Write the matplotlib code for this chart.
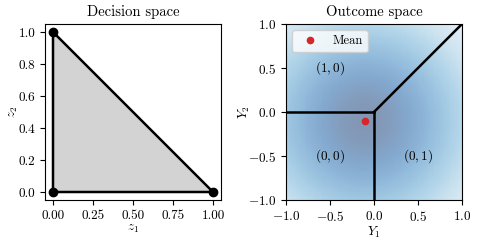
import numpy as np
import matplotlib
matplotlib.use('Agg')
import matplotlib.pyplot as plt
from matplotlib.patches import Polygon

plt.rcParams['font.family'] = 'serif'
plt.rcParams['font.serif'] = ['cmr10']
plt.rcParams['mathtext.fontset'] = 'cm'
plt.rcParams['axes.formatter.use_mathtext'] = True
plt.rcParams['font.size'] = 9.5

# Decision space: simplex vertices
vert_z1 = [0.0, 1.0, 0.0]
vert_z2 = [0.0, 0.0, 1.0]

# Outcome space: gaussian over (Y1, Y2)
mean = [-0.1, -0.1]
cov = [[0.85, 0.0], [0.0, 0.85]]

# region boundaries in outcome space
boundaries = [
    ([-1.0, 0.0], [0.0, 0.0]),
    ([0.0, 0.0], [0.0, -1.0]),
    ([0.0, 1.0], [0.0, 1.0]),
]
region_labels = ['$(1,0)$', '$(0,0)$', '$(0,1)$']
label_x = [-0.5, -0.5, 0.5]
label_y = [0.5, -0.5, -0.5]

fig = plt.figure(figsize=(4.78, 2.41), dpi=100)
ax1 = fig.add_axes([45 / 478, 41 / 241, 176 / 478, 176 / 241])
ax2 = fig.add_axes([286 / 478, 41 / 241, 176 / 478, 176 / 241])

# left panel
poly = Polygon(np.column_stack([vert_z1, vert_z2]), closed=True,
               facecolor='lightgray', edgecolor='black', lw=1.8)
ax1.add_patch(poly)
ax1.plot(vert_z1, vert_z2, 'o', color='black', ms=6)
ax1.set_xlim(-0.05, 1.05)
ax1.set_ylim(-0.05, 1.05)
ax1.set_xticks([0, 0.25, 0.5, 0.75, 1.0])
ax1.set_xticklabels(['0.00', '0.25', '0.50', '0.75', '1.00'])
ax1.set_yticks([0, 0.2, 0.4, 0.6, 0.8, 1.0])
ax1.set_yticklabels(['0.0', '0.2', '0.4', '0.6', '0.8', '1.0'])
ax1.set_xlabel('$z_1$', labelpad=1)
ax1.set_ylabel('$z_2$', labelpad=-1)
ax1.set_title('Decision space', fontsize=10.5)

# right panel
g = np.linspace(-1, 1, 100)
X, Y = np.meshgrid(g, g)
icov = np.linalg.inv(np.array(cov))
dx = X - mean[0]
dy = Y - mean[1]
Z = np.exp(-0.5 * (icov[0, 0] * dx**2 + 2 * icov[0, 1] * dx * dy + icov[1, 1] * dy**2))
ax2.pcolormesh(X, Y, Z, cmap='Blues', alpha=0.5, shading='auto', vmin=0)
for bx, by in boundaries:
    ax2.plot(bx, by, color='black', lw=1.8)
ax2.plot(mean[0], mean[1], 'o', color='tab:red', ms=4.5, label='Mean', ls='none')
for lab, x, y in zip(region_labels, label_x, label_y):
    ax2.text(x, y, lab, ha='center', va='center')
ax2.set_xlim(-1, 1)
ax2.set_ylim(-1, 1)
ax2.set_xticks([-1, -0.5, 0, 0.5, 1])
ax2.set_yticks([-1, -0.5, 0, 0.5, 1])
ax2.set_xlabel('$Y_1$', labelpad=0.5)
ax2.set_ylabel('$Y_2$', labelpad=-3)
ax2.set_title('Outcome space', fontsize=10.5)
ax2.legend(loc='upper left', fontsize=9)

fig.savefig('out.png', dpi=100)
